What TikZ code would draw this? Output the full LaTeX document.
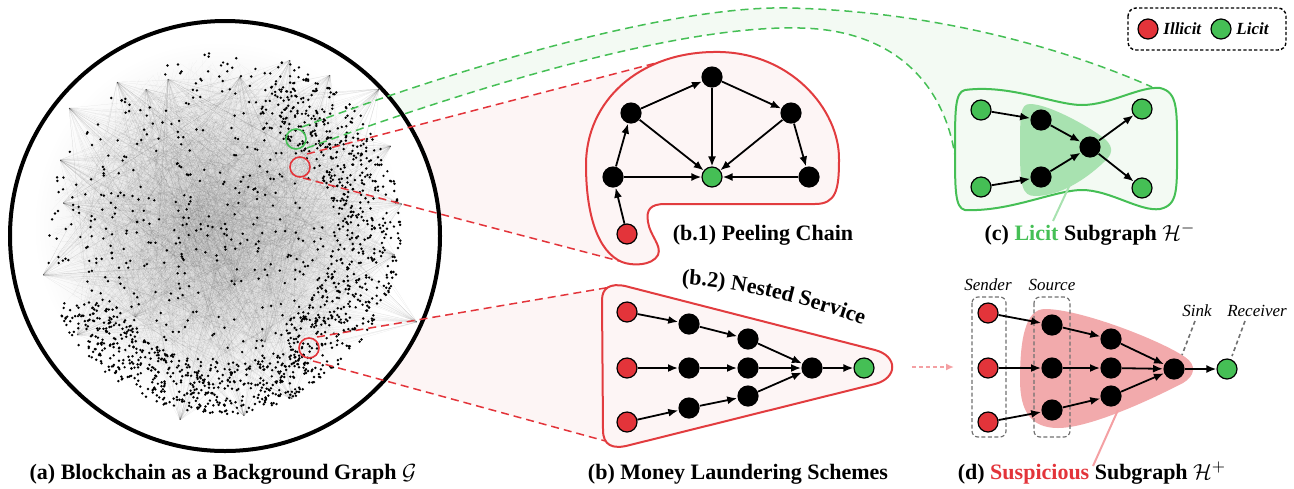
\documentclass[tikz,border=0pt]{standalone}
\usepackage{fontspec}
\setmainfont{Liberation Serif}
\usetikzlibrary{arrows.meta,decorations.text}

\definecolor{illred}{HTML}{E3343A}
\definecolor{licgreen}{HTML}{45BF55}
\definecolor{blobred}{HTML}{E23C3F}
\definecolor{pinkfill}{HTML}{FDF5F5}
\definecolor{greenfill}{HTML}{F3FAF3}
\definecolor{innergreen}{HTML}{A8E2B0}
\definecolor{pinkblob}{HTML}{F2AAAC}
\definecolor{pinkline}{HTML}{F4A0A3}
\definecolor{boxgray}{HTML}{707070}

\tikzset{
  bn/.style={circle, fill=black, minimum size=10.6pt, inner sep=0pt},
  rn/.style={circle, fill=illred, draw=black, line width=0.6pt, minimum size=10pt, inner sep=0pt},
  gn/.style={circle, fill=licgreen, draw=black, line width=0.6pt, minimum size=10pt, inner sep=0pt},
  arr/.style={-{Latex[length=5pt,width=4pt]}, line width=0.9pt},
  captext/.style={font=\fontsize{11}{13}\selectfont\bfseries, inner sep=0pt},
  tagtext/.style={font=\fontsize{8.5}{10}\selectfont\itshape, inner sep=0pt},
  legtext/.style={font=\fontsize{8.5}{10}\selectfont\bfseries\itshape, anchor=west, inner sep=0pt},
  meshline/.style={line width=0.1pt, black, opacity=0.045},
  fanline/.style={line width=0.1pt, black, opacity=0.09},
  dotc/.style={fill=black},
  conred/.style={draw=illred, dash pattern=on 4pt off 2.5pt, line width=0.75pt},
  congreen/.style={draw=licgreen, dash pattern=on 4pt off 2.5pt, line width=0.75pt},
  zoomring/.style={line width=0.8pt},
  grouping/.style={draw=boxgray, dash pattern=on 2pt off 1.2pt, line width=0.6pt, rounded corners=3},
  pointer/.style={draw=boxgray, dash pattern=on 2pt off 1.5pt, line width=0.8pt},
}

\begin{document}
\begin{tikzpicture}[x=0.5pt,y=-0.5pt]
\useasboundingbox (0,0) rectangle (1294,488);

% ---------- connector end points ----------
\coordinate (gua) at (302,127);
\coordinate (gub) at (1152,87);
\coordinate (gla) at (307,148);
\coordinate (glb) at (955,156);
\coordinate (rua) at (307,154);
\coordinate (rub) at (656,63);
\coordinate (rla) at (303,178);
\coordinate (rlb) at (623,262);
\coordinate (sua) at (317,337);
\coordinate (sub) at (617,286);
\coordinate (sla) at (313,361);
\coordinate (slb) at (620,445);

% light bands between the dashed connectors
\fill[greenfill] (gua) .. controls (480,60) and (680,5) .. (790,8)
  .. controls (950,12) and (1080,55) .. (gub) -- (glb)
  .. controls (945,90) and (900,30) .. (800,28)
  .. controls (680,25) and (480,85) .. (gla) -- cycle;
\fill[pinkfill] (rua) -- (rub) -- (rlb) -- (rla) -- cycle;
\fill[pinkfill] (sua) -- (sub) -- (slb) -- (sla) -- cycle;

% ---------- (a) background transaction graph ----------
\fill[white] (225,236) circle (215);
\shade[inner color=black!17, outer color=white] (218,226) circle (185);
\pgfmathsetseed{4242}
\foreach \i in {1,...,1200}{
  \pgfmathsetmacro{\ra}{170*sqrt(rnd)}
  \pgfmathsetmacro{\aa}{360*rnd}
  \pgfmathsetmacro{\rb}{170*sqrt(rnd)}
  \pgfmathsetmacro{\ab}{360*rnd}
  \draw[meshline] ({220+\ra*cos(\aa)},{228+\ra*sin(\aa)}) -- ({220+\rb*cos(\ab)},{228+\rb*sin(\ab)});
}
\foreach \hx/\hy in {117/82,168/79,240/77,290/60,379/89,69/108,391/146,417/322,
                     43/275,292/399,244/416,77/335,63/203,402/204,146/89,135/317,
                     265/342,235/282,395/255,60/160,330/75,180/420}{
  \foreach \j in {1,...,36}{
    \pgfmathsetmacro{\ra}{150*sqrt(rnd)}
    \pgfmathsetmacro{\aa}{360*rnd}
    \draw[fanline] (\hx,\hy) -- ({220+\ra*cos(\aa)},{228+\ra*sin(\aa)});
  }
}
% scattered accounts
\foreach \i in {1,...,560}{
  \pgfmathsetmacro{\ra}{178*sqrt(rnd)}
  \pgfmathsetmacro{\aa}{360*rnd}
  \fill[dotc] ({222+\ra*cos(\aa)},{230+\ra*sin(\aa)}) circle (1.35);
}
% dense right crescent
\foreach \i in {1,...,600}{
  \pgfmathsetmacro{\ra}{112+68*rnd}
  \pgfmathsetmacro{\aa}{-72+132*rnd}
  \fill[dotc] ({222+\ra*cos(\aa)},{230+\ra*sin(\aa)}) circle (1.35);
}
% dense lower crescent
\foreach \i in {1,...,520}{
  \pgfmathsetmacro{\ra}{132+52*rnd}
  \pgfmathsetmacro{\aa}{58+95*rnd}
  \fill[dotc] ({222+\ra*cos(\aa)},{230+\ra*sin(\aa)}) circle (1.35);
}
\draw[line width=2pt] (225,236) circle (215);

% highlighted regions inside the graph
\draw[zoomring, licgreen] (296,139) circle (10);
\draw[zoomring, illred] (300,167) circle (10);
\draw[zoomring, illred] (309,348) circle (10);

% ---------- dashed connectors ----------
\draw[congreen] (gua) .. controls (480,60) and (680,5) .. (790,8)
  .. controls (950,12) and (1080,55) .. (gub);
\draw[congreen] (gla) .. controls (480,85) and (680,25) .. (800,28)
  .. controls (900,30) and (945,90) .. (glb);
\draw[conred] (rua) -- (rub);
\draw[conred] (rla) -- (rlb);
\draw[conred] (sua) -- (sub);
\draw[conred] (sla) -- (slb);

% ---------- (b.1) peeling chain ----------
\draw[blobred, fill=pinkfill, line width=1pt]
  (713,52) .. controls (790,50) and (840,110) .. (839,160)
  .. controls (839,190) and (836,204) .. (815,204)
  -- (665,204)
  .. controls (650,204) and (646,210) .. (648,222)
  .. controls (650,236) and (662,245) .. (658,255)
  .. controls (652,266) and (632,266) .. (622,262)
  .. controls (598,252) and (586,215) .. (586,165)
  .. controls (586,100) and (640,53) .. (713,52) -- cycle;

\node[bn] (pt)  at (712,77)  {};
\node[bn] (plu) at (631,113) {};
\node[bn] (pru) at (791,113) {};
\node[bn] (pll) at (613,177) {};
\node[gn] (pg)  at (712,177) {};
\node[bn] (prl) at (809,177) {};
\node[rn] (pr)  at (627,234) {};
\foreach \a/\b in {pr/pll, pll/plu, plu/pt, pt/pru, pru/prl, plu/pg, pt/pg, pru/pg, pll/pg, prl/pg}
  \draw[arr] (\a) -- (\b);
\node[captext, anchor=base] (capb1) at (763,240) {(b.1) Peeling Chain};

% ---------- (b.2) nested service ----------
\draw[blobred, fill=pinkfill, line width=1pt]
  (602,300) .. controls (602,288) and (610,283) .. (625,286)
  -- (875,350)
  .. controls (898,356) and (898,378) .. (875,384)
  -- (630,445)
  .. controls (612,450) and (603,445) .. (603,430) -- cycle;

\node[rn] (nr1) at (627,312) {};
\node[rn] (nr2) at (627,368) {};
\node[rn] (nr3) at (627,422) {};
\node[bn] (nb1) at (689,324) {};
\node[bn] (nb2) at (689,368) {};
\node[bn] (nb3) at (689,408) {};
\node[bn] (nc1) at (748,339) {};
\node[bn] (nc2) at (748,368) {};
\node[bn] (nc3) at (748,396) {};
\node[bn] (nsk) at (812,368) {};
\node[gn] (nout) at (864,368) {};
\foreach \a/\b in {nr1/nb1, nb1/nc1, nc1/nsk, nr2/nb2, nb2/nc2, nc2/nsk, nr3/nb3, nb3/nc3, nc3/nsk, nsk/nout}
  \draw[arr] (\a) -- (\b);
\path[decorate, decoration={text along path, text align=center,
    text={|\fontsize{11}{13}\selectfont\bfseries|(b.2) Nested Service}}]
  (674,284) .. controls (740,287) and (800,302) .. (870,327);

\node[captext, anchor=base] (capb) at (738,479) {(b) Money Laundering Schemes};

% ---------- (c) licit subgraph ----------
\draw[licgreen, fill=greenfill, line width=1pt]
  (965,90) .. controls (1010,84) and (1055,105) .. (1082,105)
  .. controls (1110,105) and (1140,86) .. (1160,88)
  .. controls (1178,92) and (1177,110) .. (1177,150)
  .. controls (1177,190) and (1178,205) .. (1160,209)
  .. controls (1140,212) and (1110,190) .. (1082,190)
  .. controls (1055,190) and (1010,212) .. (965,210)
  .. controls (955,208) and (955,190) .. (955,150)
  .. controls (955,110) and (955,92) .. (965,90) -- cycle;
\fill[innergreen]
  (1030,104) .. controls (1050,104) and (1095,130) .. (1106,140)
  .. controls (1114,148) and (1112,155) .. (1104,162)
  .. controls (1085,180) and (1060,196) .. (1035,196)
  .. controls (1022,196) and (1020,185) .. (1020,150)
  .. controls (1020,115) and (1020,104) .. (1030,104) -- cycle;
\coordinate (lga) at (1073,178);
\coordinate (lgb) at (1053,221);
\draw[innergreen, line width=1pt] (lga) -- (lgb);

\node[gn] (cg1) at (981,110) {};
\node[gn] (cg2) at (981,187) {};
\node[bn] (cb1) at (1041,120) {};
\node[bn] (cb2) at (1041,177) {};
\node[bn] (ch)  at (1090,147) {};
\node[gn] (cg3) at (1142,109) {};
\node[gn] (cg4) at (1142,188) {};
\foreach \a/\b in {cg1/cb1, cg2/cb2, cb1/ch, cb2/ch, ch/cg3, ch/cg4}
  \draw[arr] (\a) -- (\b);
\node[captext, anchor=base] (capc) at (1090,240) {(c) {\color{licgreen}Licit} Subgraph $\mathcal{H}^{-}$};

% ---------- legend ----------
\draw[line width=0.7pt, dash pattern=on 1.6pt off 1.1pt, rounded corners=4] (1128,8) rectangle (1286,50);
\node[rn] (lr) at (1148,29) {};
\node[legtext] (lrt) at (1163,29) {Illicit};
\node[gn] (lg) at (1221,29) {};
\node[legtext] (lgt) at (1236,29) {Licit};

% ---------- transition arrow ----------
\coordinate (ta) at (912,367);
\coordinate (tb) at (954,367);
\draw[pinkline, dash pattern=on 2pt off 1.5pt, line width=0.8pt, -{Latex[length=4pt,width=3.5pt]}] (ta) -- (tb);

% ---------- (d) suspicious subgraph ----------
\fill[pinkblob]
  (1045,309) .. controls (1080,309) and (1160,340) .. (1185,357)
  .. controls (1197,365) and (1195,376) .. (1183,383)
  .. controls (1150,400) and (1090,428) .. (1058,428)
  .. controls (1030,428) and (1020,410) .. (1020,380)
  .. controls (1020,340) and (1025,309) .. (1045,309) -- cycle;
\coordinate (lpa) at (1118,410);
\coordinate (lpb) at (1093,466);
\draw[pinkline, line width=1pt] (lpa) -- (lpb);

\draw[grouping] (972,297) rectangle (1006,437);
\draw[grouping] (1034,297) rectangle (1070,437);

\node[rn] (dr1) at (988,313) {};
\node[rn] (dr2) at (988,368) {};
\node[rn] (dr3) at (988,422) {};
\node[bn] (ds1) at (1052,325) {};
\node[bn] (ds2) at (1052,368) {};
\node[bn] (ds3) at (1052,410) {};
\node[bn] (dm1) at (1111,339) {};
\node[bn] (dm2) at (1111,368) {};
\node[bn] (dm3) at (1111,396) {};
\node[bn] (dsk) at (1174,369) {};
\node[gn] (drc) at (1227,369) {};
\foreach \a/\b in {dr1/ds1, ds1/dm1, dm1/dsk, dr2/ds2, ds2/dm2, dm2/dsk, dr3/ds3, ds3/dm3, dm3/dsk, dsk/drc}
  \draw[arr] (\a) -- (\b);

\node[tagtext, anchor=base] (tsend) at (988,290) {Sender};
\node[tagtext, anchor=base] (tsrc)  at (1052,290) {Source};
\node[tagtext, anchor=base] (tsink) at (1197,316) {Sink};
\node[tagtext, anchor=base] (trecv) at (1257,316) {Receiver};
\coordinate (psa) at (1195,321);
\coordinate (psb) at (1182,355);
\coordinate (pra) at (1245,321);
\coordinate (prb) at (1232,356);
\draw[pointer] (psa) -- (psb);
\draw[pointer] (pra) -- (prb);

\node[captext, anchor=base] (capd) at (1092,479) {(d) {\color{illred}Suspicious} Subgraph $\mathcal{H}^{+}$};
\node[captext, anchor=base] (capa) at (223,479) {(a) Blockchain as a Background Graph $\mathcal{G}$};
\end{tikzpicture}
\end{document}
